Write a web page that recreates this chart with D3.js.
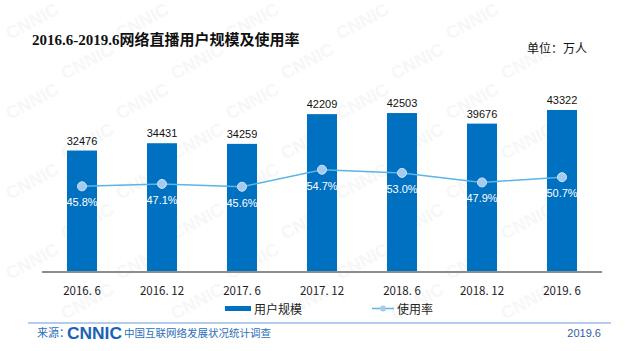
<!DOCTYPE html>
<html>
<head>
<meta charset="utf-8">
<script src="https://cdn.jsdelivr.net/npm/d3@7"></script>
<style>
body { margin: 0; background: #fff; }
svg { display: block; }
</style>
</head>
<body>
<div id="canvas"></div>
<script>
// ----------------------------------------------------------
// DATA -----------------------------------------------------
// ----------------------------------------------------------
var periods = ["2016. 6", "2016. 12", "2017. 6", "2017. 12", "2018. 6", "2018. 12", "2019. 6"];
var users = [32476, 34431, 34259, 42209, 42503, 39676, 43322];
var rates = [45.8, 47.1, 45.6, 54.7, 53.0, 47.9, 50.7];

var text_title = "2016.6-2019.6网络直播用户规模及使用率";
var text_unit = "单位：万人";
var legend_labels = ["用户规模", "使用率"];

var color_bar = "#0070c0";
var color_line = "#5ab4e8";
var color_marker = "#a4cbee";

// ----------------------------------------------------------
// STRUCTURE ------------------------------------------------
// ----------------------------------------------------------
var W = 625, H = 351;
var svg = d3.select("#canvas").append("svg")
  .attr("width", W)
  .attr("height", H);

// faint watermark, only where it fits inside the picture
var wm = svg.append("g").attr("class", "watermark");
for (var r = 0; r < 10; r++) {
  for (var c = 0; c < 7; c++) {
    var wx = c * 110 + (r % 2) * 55 + 10;
    var wy = r * 40 + 40;
    if (wx + 62 > W - 4 || wy + 6 > H - 2) continue;
    wm.append("text")
      .attr("transform", "translate(" + wx + "," + wy + ") rotate(-28)")
      .text("CNNIC")
      .style("font-family", "Liberation Sans, Arial, sans-serif")
      .style("font-weight", "bold")
      .style("font-size", "18px")
      .style("fill", "#f7f7f7");
  }
}

// scales
var x = d3.scaleBand()
  .domain(periods)
  .range([42, 602])
  .paddingInner(0.625)
  .paddingOuter(0.3125);

var yBar = d3.scaleLinear().domain([0, 50000]).range([272, 85]);
var yRate = d3.scaleLinear().domain([0, 100]).range([272, 85]);

// ----------------------------------------------------------
// GFX ------------------------------------------------------
// ----------------------------------------------------------
var gfx = svg.append("g").attr("class", "gfx");

gfx.selectAll("rect.bar")
  .data(users)
  .enter().append("rect")
  .attr("class", "bar")
  .attr("x", function(d, i) { return x(periods[i]); })
  .attr("y", function(d) { return yBar(d); })
  .attr("width", x.bandwidth())
  .attr("height", function(d) { return yBar(0) - yBar(d); })
  .style("fill", color_bar);

// bar value labels
gfx.selectAll("text.val")
  .data(users)
  .enter().append("text")
  .attr("class", "val")
  .attr("x", function(d, i) { return x(periods[i]) + x.bandwidth() / 2; })
  .attr("y", function(d) { return yBar(d) - 6; })
  .attr("text-anchor", "middle")
  .text(function(d) { return d; })
  .style("font-family", "Liberation Sans, Arial, sans-serif")
  .style("font-size", "11px")
  .style("fill", "#111");

// x axis
var xAxis = gfx.append("g")
  .attr("transform", "translate(0," + yBar(0) + ")")
  .call(d3.axisBottom(x).tickSize(0).tickPadding(15));
xAxis.select(".domain").attr("stroke", "#8c8c8c").attr("stroke-width", 2)
  .attr("d", "M42,0H602");
xAxis.selectAll(".tick text")
  .style("font-family", "Noto Sans CJK SC, sans-serif")
  .style("font-size", "11.5px")
  .style("fill", "#222");

// rate line
var cx = function(d, i) { return x(periods[i]) + x.bandwidth() / 2; };
var line = d3.line()
  .x(function(d, i) { return cx(d, i); })
  .y(function(d) { return yRate(d); });

gfx.append("path")
  .datum(rates)
  .attr("d", line)
  .style("fill", "none")
  .style("stroke", color_line)
  .style("stroke-width", 1.5);

gfx.selectAll("circle.pt")
  .data(rates)
  .enter().append("circle")
  .attr("class", "pt")
  .attr("cx", cx)
  .attr("cy", function(d) { return yRate(d); })
  .attr("r", 4.5)
  .style("fill", color_marker)
  .style("stroke", "#cfe3f6")
  .style("stroke-width", 1);

gfx.selectAll("text.rate")
  .data(rates)
  .enter().append("text")
  .attr("class", "rate")
  .attr("x", cx)
  .attr("y", function(d) { return yRate(d) + 20; })
  .attr("text-anchor", "middle")
  .text(function(d) { return d.toFixed(1) + "%"; })
  .style("font-family", "Liberation Sans, Arial, sans-serif")
  .style("font-size", "11px")
  .style("fill", "#fff");

// ----------------------------------------------------------
// LEGEND ---------------------------------------------------
// ----------------------------------------------------------
var legend = svg.append("g").attr("class", "legend");
legend.append("rect")
  .attr("x", 225).attr("y", 306).attr("width", 26).attr("height", 5)
  .style("fill", color_bar);
legend.append("text")
  .attr("x", 254).attr("y", 313.5)
  .text(legend_labels[0])
  .style("font-family", "Noto Sans CJK SC, sans-serif")
  .style("font-size", "12px")
  .style("fill", "#222");
legend.append("line")
  .attr("x1", 372).attr("x2", 394).attr("y1", 308.5).attr("y2", 308.5)
  .style("stroke", color_line).style("stroke-width", 1.5);
legend.append("circle")
  .attr("cx", 383).attr("cy", 308.5).attr("r", 3)
  .style("fill", color_marker);
legend.append("text")
  .attr("x", 397).attr("y", 313.5)
  .text(legend_labels[1])
  .style("font-family", "Noto Sans CJK SC, sans-serif")
  .style("font-size", "12px")
  .style("fill", "#222");

// ----------------------------------------------------------
// TEXT -----------------------------------------------------
// ----------------------------------------------------------
svg.append("text")
  .attr("x", 32).attr("y", 45)
  .text(text_title)
  .style("font-family", "Liberation Serif, Noto Sans CJK SC, serif")
  .style("font-weight", "bold")
  .style("font-size", "15px")
  .style("fill", "#111");

svg.append("text")
  .attr("x", 527).attr("y", 53)
  .text(text_unit)
  .style("font-family", "Noto Sans CJK SC, sans-serif")
  .style("font-size", "12px")
  .style("fill", "#111");

// footer
svg.append("line")
  .attr("x1", 28).attr("x2", 611).attr("y1", 323).attr("y2", 323)
  .style("stroke", "#9dbde6").style("stroke-width", 1.5);

svg.append("text")
  .attr("x", 37).attr("y", 337)
  .text("来源：")
  .style("font-family", "Noto Sans CJK SC, sans-serif")
  .style("font-size", "11px")
  .style("fill", "#2e6fb7");

svg.append("text")
  .attr("x", 67).attr("y", 338.5)
  .attr("textLength", 55)
  .attr("lengthAdjust", "spacingAndGlyphs")
  .text("CNNIC")
  .style("font-family", "Liberation Sans, Arial, sans-serif")
  .style("font-weight", "bold")
  .style("font-size", "17px")
  .style("fill", "#1a62b6");

svg.append("text")
  .attr("x", 124).attr("y", 337)
  .text("中国互联网络发展状况统计调查")
  .style("font-family", "Noto Sans CJK SC, sans-serif")
  .style("font-size", "10.5px")
  .style("fill", "#2e6fb7");

svg.append("text")
  .attr("x", 601).attr("y", 337)
  .attr("text-anchor", "end")
  .text("2019.6")
  .style("font-family", "Liberation Sans, Arial, sans-serif")
  .style("font-size", "11px")
  .style("fill", "#2e5f9e");
</script>
</body>
</html>
